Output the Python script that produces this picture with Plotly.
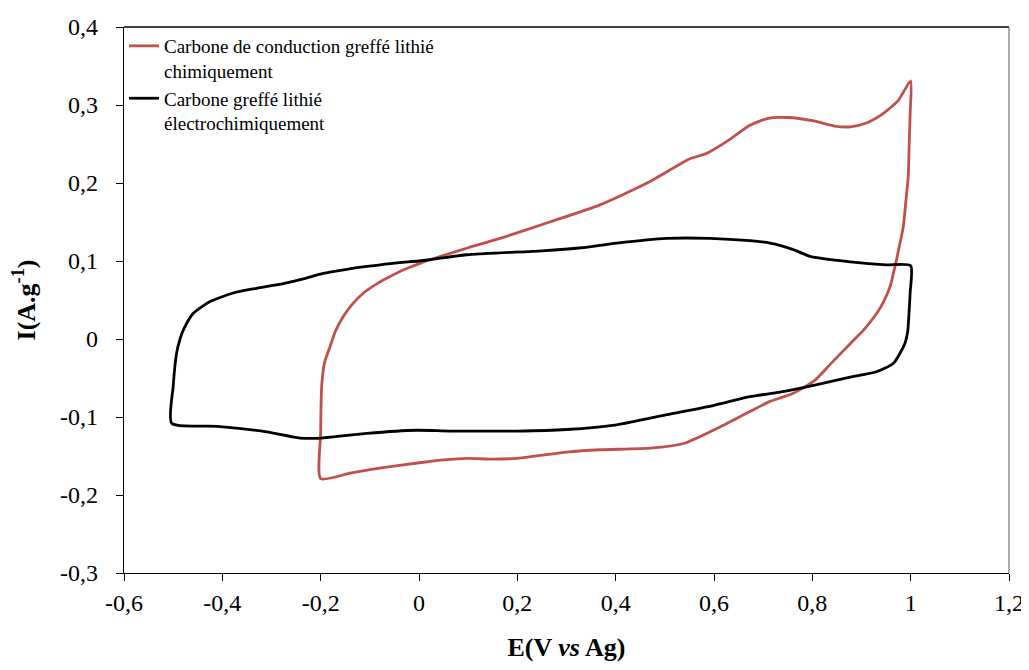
import plotly.graph_objects as go

# Red: Carbone de conduction greffé lithié chimiquement
red_E = [-0.200, -0.200, -0.198, -0.192, -0.181, -0.170, -0.154, -0.135, -0.113, -0.085,
         -0.059, -0.030, 0.002, 0.049, 0.100, 0.165, 0.266, 0.368, 0.470, 0.551,
         0.585, 0.630, 0.673, 0.710, 0.750, 0.800, 0.845, 0.877, 0.910, 0.944,
         0.975, 1.000, 0.999, 0.997, 0.995, 0.990, 0.985, 0.978, 0.971, 0.958,
         0.945, 0.931, 0.905, 0.877, 0.840, 0.805, 0.760, 0.714, 0.673, 0.605,
         0.538, 0.470, 0.368, 0.300, 0.250, 0.199, 0.150, 0.097, 0.050, 0.009,
         -0.073, -0.140, -0.200]
red_I = [-0.179, -0.120, -0.061, -0.030, -0.010, 0.010, 0.029, 0.045, 0.059, 0.071,
         0.080, 0.089, 0.097, 0.107, 0.117, 0.129, 0.150, 0.172, 0.202, 0.231,
         0.238, 0.255, 0.274, 0.283, 0.284, 0.280, 0.273, 0.272, 0.277, 0.289,
         0.306, 0.331, 0.290, 0.250, 0.208, 0.175, 0.144, 0.122, 0.101, 0.067,
         0.048, 0.033, 0.012, -0.006, -0.030, -0.053, -0.070, -0.080, -0.093, -0.115,
         -0.134, -0.140, -0.142, -0.145, -0.149, -0.153, -0.154, -0.153, -0.155, -0.158,
         -0.165, -0.172, -0.179]

# Black: Carbone greffé lithié électrochimiquement
black_E = [-0.503, -0.500, -0.493, -0.486, -0.479, -0.459, -0.425, -0.378, -0.330, -0.276,
           -0.235, -0.195, -0.150, -0.106, -0.040, 0.000, 0.097, 0.250, 0.330, 0.402,
           0.504, 0.592, 0.673, 0.714, 0.760, 0.795, 0.877, 0.950, 1.000, 0.999,
           0.997, 0.994, 0.988, 0.965, 0.930, 0.877, 0.805, 0.734, 0.673, 0.600,
           0.504, 0.402, 0.300, 0.199, 0.063, -0.005, -0.106, -0.198, -0.242, -0.310,
           -0.411, -0.503]
black_I = [-0.108, -0.061, -0.018, 0.000, 0.012, 0.033, 0.048, 0.059, 0.065, 0.071,
           0.077, 0.084, 0.089, 0.093, 0.098, 0.100, 0.108, 0.113, 0.117, 0.123,
           0.129, 0.129, 0.126, 0.123, 0.115, 0.106, 0.099, 0.095, 0.094, 0.060,
           0.037, 0.010, -0.006, -0.031, -0.042, -0.049, -0.059, -0.068, -0.074, -0.085,
           -0.097, -0.110, -0.116, -0.118, -0.118, -0.117, -0.121, -0.127, -0.127, -0.119,
           -0.112, -0.108]

x_ticks = [-0.6, -0.4, -0.2, 0, 0.2, 0.4, 0.6, 0.8, 1.0, 1.2]
x_labels = ["-0,6", "-0,4", "-0,2", "0", "0,2", "0,4", "0,6", "0,8", "1", "1,2"]
y_ticks = [-0.3, -0.2, -0.1, 0, 0.1, 0.2, 0.3, 0.4]
y_labels = ["-0,3", "-0,2", "-0,1", "0", "0,1", "0,2", "0,3", "0,4"]

FONT = "Liberation Serif, Times New Roman, DejaVu Serif, serif"

fig = go.Figure()
fig.add_trace(go.Scatter(
    x=red_E, y=red_I, mode="lines",
    name="Carbone de conduction greffé lithié<br>chimiquement",
    line=dict(color="#C0504D", width=2.8, shape="spline", smoothing=0.6),
))
fig.add_trace(go.Scatter(
    x=black_E, y=black_I, mode="lines",
    name="Carbone greffé lithié<br>électrochimiquement",
    line=dict(color="#000000", width=2.8, shape="spline", smoothing=0.6),
))

fig.update_layout(
    width=1021, height=654,
    margin=dict(l=116, r=20, t=19, b=89),
    paper_bgcolor="white", plot_bgcolor="white",
    font=dict(family=FONT, color="black", size=19),
    showlegend=True,
    legend=dict(x=0.0, y=1.0, xanchor="left", yanchor="top",
                bgcolor="rgba(0,0,0,0)", font=dict(family=FONT, size=19, color="black"),
                valign="top", tracegroupgap=2),
    xaxis=dict(range=[-0.6, 1.2], tickvals=x_ticks, ticktext=x_labels, automargin=False,
               showgrid=False, zeroline=False, showline=True, linecolor="black", linewidth=1.3,
               ticks="outside", ticklen=7, tickcolor="black", tickwidth=1,
               ticklabeloverflow="allow", ticklabelstandoff=1,
               tickfont=dict(family=FONT, size=24),
               title=dict(text="<b>E(V <i>vs</i> Ag)</b>", font=dict(family=FONT, size=26), standoff=37)),
    yaxis=dict(range=[-0.3, 0.4], tickvals=y_ticks, ticktext=y_labels, automargin=False,
               showgrid=False, zeroline=False, showline=True, linecolor="black", linewidth=1.3,
               ticks="outside", ticklen=7, tickcolor="black", tickwidth=1,
               ticklabelstandoff=13,
               tickfont=dict(family=FONT, size=24),
               title=dict(text="<b>I(A.g<sup>-1</sup>)</b>", font=dict(family=FONT, size=26), standoff=30)),
    shapes=[
        dict(type="line", xref="paper", yref="paper", x0=0, x1=1, y0=1, y1=1,
             line=dict(color="black", width=1.3)),
        dict(type="line", xref="paper", yref="paper", x0=1, x1=1, y0=0, y1=1,
             line=dict(color="#808080", width=1.3)),
    ],
)

fig.write_html("out.html")
